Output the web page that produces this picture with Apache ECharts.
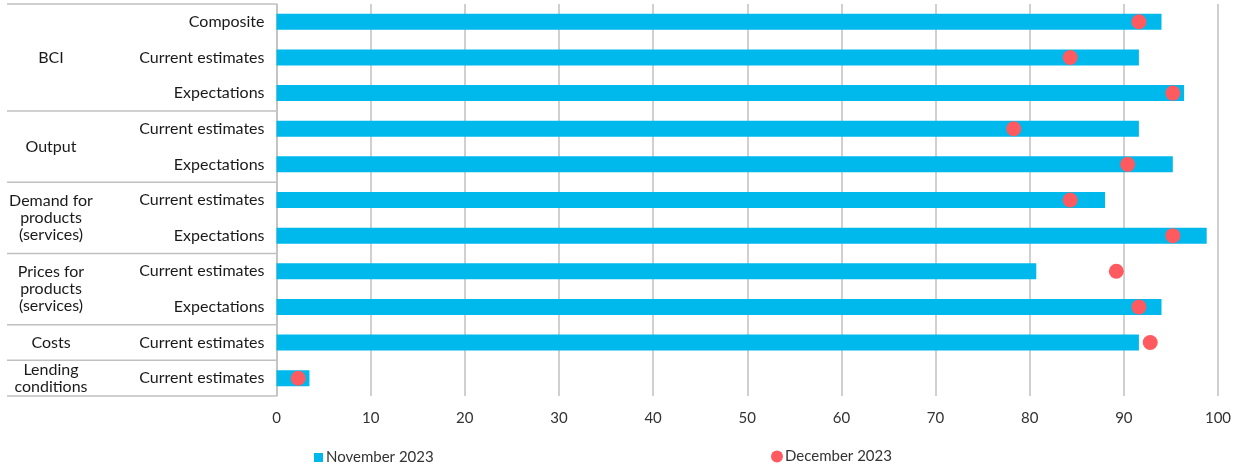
<!DOCTYPE html>
<html>
<head>
<meta charset="utf-8">
<script src="https://cdn.jsdelivr.net/npm/echarts@6/dist/echarts.min.js"></script>
<style>
html,body{margin:0;padding:0;background:#fff;}
#main{width:1235px;height:470px;}
</style>
</head>
<body>
<div id="main"></div>
<script>
// ---- data ----
var categories = ['Composite','Current estimates','Expectations','Current estimates','Expectations','Current estimates','Expectations','Current estimates','Expectations','Current estimates','Current estimates'];
var groupNames = ['BCI','Output','Demand for\nproducts\n(services)','Prices for\nproducts\n(services)','Costs','Lending\nconditions'];
var groupSizes = [3,2,2,2,1,1];
var november2023 = [94.0,91.6,96.4,91.6,95.2,88.0,98.8,80.7,94.0,91.6,3.5];
var december2023 = [91.6,84.3,95.2,78.3,90.4,84.3,95.2,89.2,91.6,92.8,2.3];
var seriesNames = ['November 2023','December 2023'];

var BLUE = '#00B9EC', RED = '#FF5A5F', GRID = '#C0C0C0', TXT = '#1a1a1a';
var chart = echarts.init(document.getElementById('main'), null, {renderer:'canvas'});

var option = {
  animation:false,
  backgroundColor:'#fff',
  grid:{left:276.5, right:17, top:4, bottom:74, containLabel:false},
  legend:[
    {data:[seriesNames[0]], left:309, top:445, itemWidth:9, itemHeight:9, itemGap:0,
     icon:'rect', textStyle:{fontFamily:'Lato', fontSize:15, color:'#333', padding:[0,0,0,-2]}},
    {data:[seriesNames[1]], left:766, top:444, itemWidth:12, itemHeight:12,
     icon:'circle', textStyle:{fontFamily:'Lato', fontSize:15, color:'#333', padding:[0,0,0,-3]}}
  ],
  xAxis:{
    type:'value', min:0, max:100, interval:10,
    axisLine:{show:false}, axisTick:{show:false},
    splitLine:{show:true, lineStyle:{color:GRID, width:1.5}},
    axisLabel:{fontFamily:'Lato', fontSize:15, color:'#333', margin:15}
  },
  yAxis:{
    type:'category', data:categories, inverse:true,
    axisLine:{show:true, lineStyle:{color:GRID, width:1.5}},
    axisTick:{show:false},
    axisLabel:{fontFamily:'Lato', fontSize:16, color:TXT, margin:12, padding:[2,0,0,0]}
  },
  series:[
    {name:seriesNames[0], type:'bar', data:november2023, barWidth:16,
     itemStyle:{color:BLUE}, z:2},
    {name:seriesNames[1], type:'scatter', data:december2023, symbolSize:15,
     itemStyle:{color:RED, opacity:1}, z:3}
  ]
};
chart.setOption(option);

function buildGraphics(){
  var c0 = chart.convertToPixel({yAxisIndex:0}, 0);
  var c1 = chart.convertToPixel({yAxisIndex:0}, 1);
  var band = Math.abs(c1 - c0);
  var axisX = chart.convertToPixel({xAxisIndex:0}, 0);
  var leftX = 7;
  var labelX = 51;
  var els = [];
  var idx = 0;
  var topY = c0 - band/2;
  els.push({type:'line', shape:{x1:leftX, y1:topY, x2:axisX, y2:topY}, style:{stroke:GRID, lineWidth:1.5}, silent:true});
  for (var g=0; g<groupSizes.length; g++){
    var start = idx, end = idx + groupSizes[g] - 1;
    var yStart = chart.convertToPixel({yAxisIndex:0}, start) - band/2;
    var yEnd = chart.convertToPixel({yAxisIndex:0}, end) + band/2;
    els.push({type:'line', shape:{x1:leftX, y1:yEnd, x2:axisX, y2:yEnd}, style:{stroke:GRID, lineWidth:1.5}, silent:true});
    els.push({type:'text', x:labelX, y:(yStart+yEnd)/2,
      style:{text:groupNames[g], fontFamily:'Lato', fontSize:16, fill:TXT, align:'center', verticalAlign:'middle', lineHeight:17},
      silent:true});
    idx = end + 1;
  }
  chart.setOption({graphic:{elements:els}});
}
buildGraphics();
</script>
</body>
</html>
